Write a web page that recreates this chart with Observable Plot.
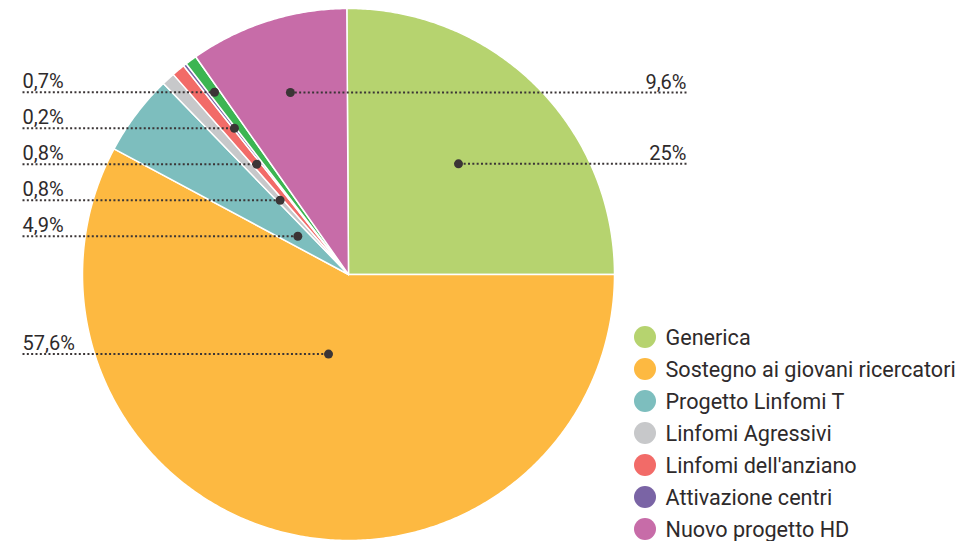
<!DOCTYPE html>
<html><head><meta charset="utf-8">
<script src="https://cdn.jsdelivr.net/npm/d3@7"></script>
<script src="https://cdn.jsdelivr.net/npm/@observablehq/plot@0.6"></script>
<style>
html,body{margin:0;padding:0;background:#fff;overflow:hidden}
#wrap{position:relative;width:980px;height:541px;overflow:hidden}
#legend{position:absolute;left:634px;top:321px;font-family:Roboto,sans-serif;font-size:21.6px;color:#2e2a2b}
.row{display:flex;align-items:center;height:32px;white-space:nowrap}
.sw{width:22px;height:22px;border-radius:50%;margin-right:9.5px;flex:none}
</style></head><body><div id="wrap"><div id="legend"></div></div>
<script>
// ---- data (pie order, clockwise from 12 o'clock) ----
const categories = ["Generica", "Sostegno ai giovani ricercatori", "Progetto Linfomi T", "Linfomi Agressivi", "Linfomi dell'anziano", "Attivazione centri", "Altro", "Nuovo progetto HD"];
const values = [25, 57.6, 4.9, 0.8, 0.8, 0.2, 0.7, 9.6];
const valueLabels = ["25%", "57,6%", "4,9%", "0,8%", "0,8%", "0,2%", "0,7%", "9,6%"];
const colors = ["#b6d36f", "#fdb941", "#7dbebe", "#c7c8ca", "#f26b68", "#7a64a5", "#3cb552", "#c76ca8"];
const legendOrder = ["Generica", "Sostegno ai giovani ricercatori", "Progetto Linfomi T", "Linfomi Agressivi", "Linfomi dell'anziano", "Attivazione centri", "Nuovo progetto HD"];

// ---- layout ----
const W = 980, H = 541, CX = 348, CY = 274, R = 266;
const LEFT_EDGE = (22 - CX) / R, RIGHT_EDGE = (686 - CX) / R;
const GAP = 36 / R;

const total = d3.sum(values);
let a = Math.PI / 2 - 2 * Math.PI * values[0] / total; // first slice ends at 3 o'clock
const slices = values.map((v, i) => {
  const start = a; a += 2 * Math.PI * v / total;
  return {cat: categories[i], label: valueLabels[i], f: v / total, start, end: a, mid: (start + a) / 2};
});

// pie polygons (unit radius, y up)
const step = Math.PI / 360;
const pts = [];
for (const s of slices) {
  pts.push({cat: s.cat, x: 0, y: 0});
  const n = Math.max(2, Math.ceil((s.end - s.start) / step));
  for (let j = 0; j <= n; j++) {
    const t = s.start + (s.end - s.start) * j / n;
    pts.push({cat: s.cat, x: Math.sin(t), y: Math.cos(t)});
  }
  pts.push({cat: s.cat, x: 0, y: 0});
}

// label anchors: preferred spot on the mid-angle ray, then de-overlap per side
const anchors = slices.map(s => {
  const k = s.f < 0.05 ? 0.56 : 0.8 - 0.85 * s.f;
  const sn = Math.sin(s.mid), cs = Math.cos(s.mid);
  const right = sn > 0 || (cs > 0 && sn > -0.4);
  return {cat: s.cat, label: s.label, mid: s.mid, side: right ? "right" : "left",
          px: k * sn, u: -k * cs};
});
for (const side of ["left", "right"]) {
  const items = anchors.filter(d => d.side === side).sort((p, q) => p.u - q.u);
  let clusters = items.map(d => ({items: [d], c: d.u}));
  let merged = true;
  while (merged) {
    merged = false;
    for (let i = 0; i < clusters.length - 1; i++) {
      const A = clusters[i], B = clusters[i + 1];
      const aBot = A.c + (A.items.length - 1) / 2 * GAP, bTop = B.c - (B.items.length - 1) / 2 * GAP;
      if (bTop - aBot < GAP - 1e-9) {
        const its = A.items.concat(B.items);
        clusters.splice(i, 2, {items: its, c: d3.mean(its, d => d.u)});
        merged = true; break;
      }
    }
  }
  for (const C of clusters) C.items.forEach((d, j) => { d.u = C.c + (j - (C.items.length - 1) / 2) * GAP; });
}
const labelData = anchors.map(d => {
  const y = -d.u, c = Math.cos(d.mid);
  const x = Math.abs(c) > 0.05 ? (y / c) * Math.sin(d.mid) : d.px;
  return {...d, y, dx: x, lx: d.side === "left" ? LEFT_EDGE : RIGHT_EDGE};
});

const ink = "#3b3536";
const chart = Plot.plot({
  width: W, height: H, margin: 0,
  x: {domain: [(0 - CX) / R, (W - CX) / R], axis: null},
  y: {domain: [(CY - H) / R, CY / R], axis: null},
  color: {domain: categories, range: colors},
  style: {fontFamily: "Roboto, sans-serif", background: "white"},
  marks: [
    Plot.line(pts, {x: "x", y: "y", z: "cat", fill: "cat", stroke: "white", strokeWidth: 1.5, strokeLinejoin: "round"}),
    Plot.link(labelData, {x1: "lx", y1: "y", x2: "dx", y2: "y", stroke: ink, strokeWidth: 2, strokeDasharray: "2,2.33"}),
    Plot.dot(labelData, {x: "dx", y: "y", r: 4.5, fill: ink}),
    Plot.text(labelData, {filter: d => d.side === "left", x: "lx", y: "y", text: "label", textAnchor: "start", lineAnchor: "bottom", dy: -4, fontSize: 20, fill: "#2e2a2b"}),
    Plot.text(labelData, {filter: d => d.side === "right", x: "lx", y: "y", text: "label", textAnchor: "end", lineAnchor: "bottom", dy: -4, fontSize: 20, fill: "#2e2a2b"})
  ]
});
const wrap = document.getElementById("wrap");
wrap.insertBefore(chart, wrap.firstChild);

// legend
const legend = document.getElementById("legend");
for (const name of legendOrder) {
  const row = document.createElement("div"); row.className = "row";
  const sw = document.createElement("span"); sw.className = "sw";
  sw.style.background = colors[categories.indexOf(name)];
  const tx = document.createElement("span"); tx.textContent = name;
  row.append(sw, tx); legend.append(row);
}
</script></body></html>
